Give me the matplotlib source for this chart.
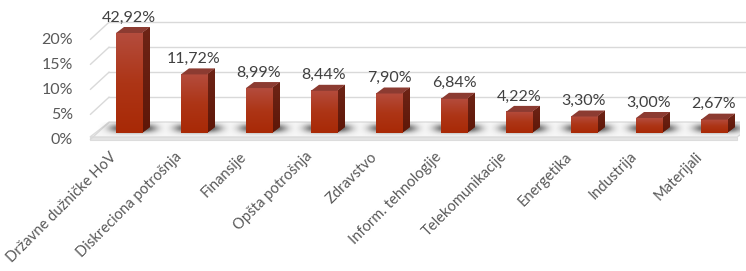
import numpy as np
import matplotlib
matplotlib.use("Agg")
import matplotlib.pyplot as plt
from matplotlib.patches import Polygon
from matplotlib.colors import LinearSegmentedColormap

# ---- data ----
categories = ["Državne dužničke HoV", "Diskreciona potrošnja", "Finansije",
              "Opšta potrošnja", "Zdravstvo", "Inform. tehnologije",
              "Telekomunikacije", "Energetika", "Industrija", "Materijali"]
values = [42.92, 11.72, 8.99, 8.44, 7.90, 6.84, 4.22, 3.30, 3.00, 2.67]
value_labels = ["42,92%", "11,72%", "8,99%", "8,44%", "7,90%", "6,84%",
                "4,22%", "3,30%", "3,00%", "2,67%"]
yticks = [0, 5, 10, 15, 20]
ytick_labels = ["0%", "5%", "10%", "15%", "20%"]
y_max = 20

# ---- style ----
FONT = ["Lato", "DejaVu Sans"]
plt.rcParams['font.family'] = FONT
W, H = 746, 271
fig = plt.figure(figsize=(W / 100, H / 100), dpi=100)
ax = fig.add_axes([80 / W, (H - 150) / H, 660 / W, 140 / H])
ax.set_xlim(-0.7538, 9.4)
ax.set_ylim(-3.4, 24.6)
ax.axis('off')

bar_half = 0.2
ddx, ddy = 0.123, 1.2          # bar depth offsets
back_dy, front_dy = 2.25, -1.35
front_x, back_x = -0.6, -0.3
n = len(values)

# floor
floor_front, floor_top_back = -0.8, 2.2
ax.add_patch(Polygon([(front_x, floor_front), (n - 0.646, floor_front),
                      (n - 0.3, floor_top_back), (back_x + 0.0, floor_top_back)],
                     closed=True, facecolor="#f6f6f6", edgecolor="#dcdcdc",
                     lw=1.0, zorder=1))
ax.add_patch(Polygon([(front_x, floor_front), (n - 0.646, floor_front),
                      (n - 0.646, front_dy), (front_x, front_dy)],
                     closed=True, facecolor="#e4e4e4", edgecolor="#dcdcdc",
                     lw=0.8, zorder=1))

# shadows on the floor
xs = np.linspace(-0.55, n - 0.45, 900)
ys = np.linspace(-0.6, 2.1, 60)
X, Y = np.meshgrid(xs, ys)
A = np.zeros_like(X)
for i in range(n):
    A = np.maximum(A, np.exp(-((X - i - 0.06) / 0.30) ** 4 / 2)
                   * np.exp(-((Y - 0.9) / 0.6) ** 2 / 2))
rgba = np.zeros(X.shape + (4,))
rgba[..., :3] = 0.2
rgba[..., 3] = 0.85 * A
ax.imshow(rgba, extent=(xs[0], xs[-1], ys[0], ys[-1]), origin='lower',
          aspect='auto', zorder=2, interpolation='bilinear')

# gridlines
for v in yticks:
    ax.plot([front_x, back_x], [v + front_dy, v + back_dy], color="#d9d9d9",
            lw=1.0, zorder=1.5, solid_capstyle='butt')
    if v > 0:
        ax.plot([back_x, 9.6], [v + back_dy, v + back_dy], color="#d9d9d9",
                lw=1.0, zorder=1.5, clip_on=False)
    ax.text(front_x - 0.26, v + front_dy, ytick_labels[yticks.index(v)],
            ha='right', va='center', fontsize=11.5, color="#595959")

front_cmap = LinearSegmentedColormap.from_list("f", ["#a82906", "#ad3516", "#b44c3d"])
side_cmap = LinearSegmentedColormap.from_list("s", ["#5e1708", "#6e2416"])
grad = np.linspace(0, 1, 100).reshape(-1, 1)

for i, v in enumerate(values):
    h = min(v, y_max)
    x0, x1 = i - bar_half, i + bar_half
    ax.imshow(grad, extent=(x0, x1, 0, h), origin='lower', aspect='auto',
              cmap=front_cmap, zorder=4)
    side = Polygon([(x1, 0), (x1 + ddx, ddy), (x1 + ddx, h + ddy), (x1, h)],
                   closed=True, facecolor="#66200f", edgecolor='none', zorder=3.9)
    ax.add_patch(side)
    ax.imshow(grad, extent=(x1, x1 + ddx, 0, h + ddy), origin='lower',
              aspect='auto', cmap=side_cmap, zorder=3.95, clip_path=side)
    ax.add_patch(Polygon([(x0, h), (x1, h), (x1 + ddx, h + ddy), (x0 + ddx, h + ddy)],
                         closed=True, facecolor="#8c3b31", edgecolor='none', zorder=4.1))
    ax.text(i, h + ddy + 0.5, value_labels[i], ha='center', va='bottom',
            fontsize=11.5, color="#404040", zorder=5)
    ax.text(i - 0.22, -4.3, categories[i], ha='right', va='center', rotation=45,
            rotation_mode='anchor', fontsize=10.6, color="#595959", clip_on=False)

fig.savefig("out.png", dpi=100)
